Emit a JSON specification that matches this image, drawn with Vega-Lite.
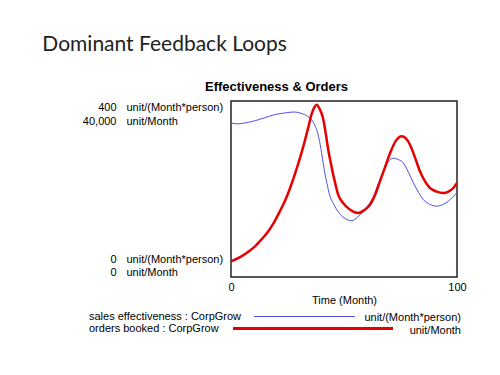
{
  "$schema": "https://vega.github.io/schema/vega-lite/v6.json",
  "width": 226,
  "height": 176,
  "autosize": {"type": "none"},
  "padding": {"left": 231, "top": 101, "right": 43, "bottom": 98},
  "background": "white",
  "config": {
    "view": {"stroke": "#222", "strokeWidth": 1.5},
    "font": "Liberation Sans",
    "axis": {"labelFont": "Liberation Sans", "labelFontSize": 11, "labelColor": "#000", "titleFont": "Liberation Sans", "titleColor": "#000", "grid": false, "domain": false, "ticks": false, "tickSize": 0},
    "legend": {"labelFont": "Liberation Sans", "labelFontSize": 11, "labelColor": "#000"}
  },
  "title": {
    "text": "Dominant Feedback Loops",
    "anchor": "start",
    "frame": "bounds",
    "font": "Lato",
    "fontSize": 21,
    "fontWeight": "normal",
    "color": "#222",
    "dx": -40,
    "offset": 25
  },
  "datasets": {
    "runs": [
      {"t": 0, "value": 350, "series": "sales effectiveness : CorpGrow", "unit": "unit/(Month*person)"},
      {"t": 3, "value": 348, "series": "sales effectiveness : CorpGrow", "unit": "unit/(Month*person)"},
      {"t": 6, "value": 350, "series": "sales effectiveness : CorpGrow", "unit": "unit/(Month*person)"},
      {"t": 10.5, "value": 355, "series": "sales effectiveness : CorpGrow", "unit": "unit/(Month*person)"},
      {"t": 15, "value": 362, "series": "sales effectiveness : CorpGrow", "unit": "unit/(Month*person)"},
      {"t": 19.3, "value": 369, "series": "sales effectiveness : CorpGrow", "unit": "unit/(Month*person)"},
      {"t": 24, "value": 373, "series": "sales effectiveness : CorpGrow", "unit": "unit/(Month*person)"},
      {"t": 28, "value": 375, "series": "sales effectiveness : CorpGrow", "unit": "unit/(Month*person)"},
      {"t": 31, "value": 372, "series": "sales effectiveness : CorpGrow", "unit": "unit/(Month*person)"},
      {"t": 34, "value": 365, "series": "sales effectiveness : CorpGrow", "unit": "unit/(Month*person)"},
      {"t": 36, "value": 355, "series": "sales effectiveness : CorpGrow", "unit": "unit/(Month*person)"},
      {"t": 37, "value": 346, "series": "sales effectiveness : CorpGrow", "unit": "unit/(Month*person)"},
      {"t": 38.2, "value": 330, "series": "sales effectiveness : CorpGrow", "unit": "unit/(Month*person)"},
      {"t": 39.2, "value": 308, "series": "sales effectiveness : CorpGrow", "unit": "unit/(Month*person)"},
      {"t": 40.3, "value": 275, "series": "sales effectiveness : CorpGrow", "unit": "unit/(Month*person)"},
      {"t": 41.4, "value": 240, "series": "sales effectiveness : CorpGrow", "unit": "unit/(Month*person)"},
      {"t": 42.5, "value": 212, "series": "sales effectiveness : CorpGrow", "unit": "unit/(Month*person)"},
      {"t": 43.6, "value": 187, "series": "sales effectiveness : CorpGrow", "unit": "unit/(Month*person)"},
      {"t": 45.5, "value": 165, "series": "sales effectiveness : CorpGrow", "unit": "unit/(Month*person)"},
      {"t": 47.3, "value": 149, "series": "sales effectiveness : CorpGrow", "unit": "unit/(Month*person)"},
      {"t": 49.5, "value": 137, "series": "sales effectiveness : CorpGrow", "unit": "unit/(Month*person)"},
      {"t": 51.5, "value": 130, "series": "sales effectiveness : CorpGrow", "unit": "unit/(Month*person)"},
      {"t": 53.4, "value": 128, "series": "sales effectiveness : CorpGrow", "unit": "unit/(Month*person)"},
      {"t": 56, "value": 136, "series": "sales effectiveness : CorpGrow", "unit": "unit/(Month*person)"},
      {"t": 58.6, "value": 149, "series": "sales effectiveness : CorpGrow", "unit": "unit/(Month*person)"},
      {"t": 61, "value": 165, "series": "sales effectiveness : CorpGrow", "unit": "unit/(Month*person)"},
      {"t": 63, "value": 183, "series": "sales effectiveness : CorpGrow", "unit": "unit/(Month*person)"},
      {"t": 65.2, "value": 212, "series": "sales effectiveness : CorpGrow", "unit": "unit/(Month*person)"},
      {"t": 67.4, "value": 240, "series": "sales effectiveness : CorpGrow", "unit": "unit/(Month*person)"},
      {"t": 69.6, "value": 262, "series": "sales effectiveness : CorpGrow", "unit": "unit/(Month*person)"},
      {"t": 71.8, "value": 270, "series": "sales effectiveness : CorpGrow", "unit": "unit/(Month*person)"},
      {"t": 74, "value": 267, "series": "sales effectiveness : CorpGrow", "unit": "unit/(Month*person)"},
      {"t": 76.3, "value": 259, "series": "sales effectiveness : CorpGrow", "unit": "unit/(Month*person)"},
      {"t": 78.5, "value": 238, "series": "sales effectiveness : CorpGrow", "unit": "unit/(Month*person)"},
      {"t": 80.7, "value": 214, "series": "sales effectiveness : CorpGrow", "unit": "unit/(Month*person)"},
      {"t": 83, "value": 192, "series": "sales effectiveness : CorpGrow", "unit": "unit/(Month*person)"},
      {"t": 85.1, "value": 176, "series": "sales effectiveness : CorpGrow", "unit": "unit/(Month*person)"},
      {"t": 88, "value": 165, "series": "sales effectiveness : CorpGrow", "unit": "unit/(Month*person)"},
      {"t": 91, "value": 161, "series": "sales effectiveness : CorpGrow", "unit": "unit/(Month*person)"},
      {"t": 93.5, "value": 164, "series": "sales effectiveness : CorpGrow", "unit": "unit/(Month*person)"},
      {"t": 96.1, "value": 172, "series": "sales effectiveness : CorpGrow", "unit": "unit/(Month*person)"},
      {"t": 98, "value": 181, "series": "sales effectiveness : CorpGrow", "unit": "unit/(Month*person)"},
      {"t": 100, "value": 192, "series": "sales effectiveness : CorpGrow", "unit": "unit/(Month*person)"},
      {"t": 0, "value": 3570, "series": "orders booked : CorpGrow", "unit": "unit/Month"},
      {"t": 4, "value": 4500, "series": "orders booked : CorpGrow", "unit": "unit/Month"},
      {"t": 7.5, "value": 5680, "series": "orders booked : CorpGrow", "unit": "unit/Month"},
      {"t": 10.5, "value": 6900, "series": "orders booked : CorpGrow", "unit": "unit/Month"},
      {"t": 13.4, "value": 8480, "series": "orders booked : CorpGrow", "unit": "unit/Month"},
      {"t": 16.5, "value": 10400, "series": "orders booked : CorpGrow", "unit": "unit/Month"},
      {"t": 19.3, "value": 12660, "series": "orders booked : CorpGrow", "unit": "unit/Month"},
      {"t": 21.5, "value": 14800, "series": "orders booked : CorpGrow", "unit": "unit/Month"},
      {"t": 23.8, "value": 17200, "series": "orders booked : CorpGrow", "unit": "unit/Month"},
      {"t": 26, "value": 20000, "series": "orders booked : CorpGrow", "unit": "unit/Month"},
      {"t": 28.2, "value": 23250, "series": "orders booked : CorpGrow", "unit": "unit/Month"},
      {"t": 30.5, "value": 27000, "series": "orders booked : CorpGrow", "unit": "unit/Month"},
      {"t": 32.6, "value": 30840, "series": "orders booked : CorpGrow", "unit": "unit/Month"},
      {"t": 34.2, "value": 34000, "series": "orders booked : CorpGrow", "unit": "unit/Month"},
      {"t": 35.6, "value": 36890, "series": "orders booked : CorpGrow", "unit": "unit/Month"},
      {"t": 36.8, "value": 38500, "series": "orders booked : CorpGrow", "unit": "unit/Month"},
      {"t": 37.9, "value": 39160, "series": "orders booked : CorpGrow", "unit": "unit/Month"},
      {"t": 39.2, "value": 38200, "series": "orders booked : CorpGrow", "unit": "unit/Month"},
      {"t": 40.7, "value": 36140, "series": "orders booked : CorpGrow", "unit": "unit/Month"},
      {"t": 41.8, "value": 33000, "series": "orders booked : CorpGrow", "unit": "unit/Month"},
      {"t": 42.9, "value": 29320, "series": "orders booked : CorpGrow", "unit": "unit/Month"},
      {"t": 44.4, "value": 25300, "series": "orders booked : CorpGrow", "unit": "unit/Month"},
      {"t": 45.9, "value": 21750, "series": "orders booked : CorpGrow", "unit": "unit/Month"},
      {"t": 47.5, "value": 18600, "series": "orders booked : CorpGrow", "unit": "unit/Month"},
      {"t": 49.6, "value": 16820, "series": "orders booked : CorpGrow", "unit": "unit/Month"},
      {"t": 52.7, "value": 15300, "series": "orders booked : CorpGrow", "unit": "unit/Month"},
      {"t": 56.3, "value": 14550, "series": "orders booked : CorpGrow", "unit": "unit/Month"},
      {"t": 59, "value": 15200, "series": "orders booked : CorpGrow", "unit": "unit/Month"},
      {"t": 61.5, "value": 16430, "series": "orders booked : CorpGrow", "unit": "unit/Month"},
      {"t": 63.8, "value": 18700, "series": "orders booked : CorpGrow", "unit": "unit/Month"},
      {"t": 65.9, "value": 21750, "series": "orders booked : CorpGrow", "unit": "unit/Month"},
      {"t": 68.2, "value": 25000, "series": "orders booked : CorpGrow", "unit": "unit/Month"},
      {"t": 70.4, "value": 28180, "series": "orders booked : CorpGrow", "unit": "unit/Month"},
      {"t": 73, "value": 31000, "series": "orders booked : CorpGrow", "unit": "unit/Month"},
      {"t": 75.5, "value": 31980, "series": "orders booked : CorpGrow", "unit": "unit/Month"},
      {"t": 77.4, "value": 31500, "series": "orders booked : CorpGrow", "unit": "unit/Month"},
      {"t": 79.2, "value": 30070, "series": "orders booked : CorpGrow", "unit": "unit/Month"},
      {"t": 81.4, "value": 27200, "series": "orders booked : CorpGrow", "unit": "unit/Month"},
      {"t": 83.6, "value": 24020, "series": "orders booked : CorpGrow", "unit": "unit/Month"},
      {"t": 85.8, "value": 21800, "series": "orders booked : CorpGrow", "unit": "unit/Month"},
      {"t": 88, "value": 20230, "series": "orders booked : CorpGrow", "unit": "unit/Month"},
      {"t": 91, "value": 19400, "series": "orders booked : CorpGrow", "unit": "unit/Month"},
      {"t": 93.9, "value": 19090, "series": "orders booked : CorpGrow", "unit": "unit/Month"},
      {"t": 96.2, "value": 19400, "series": "orders booked : CorpGrow", "unit": "unit/Month"},
      {"t": 98.4, "value": 20230, "series": "orders booked : CorpGrow", "unit": "unit/Month"},
      {"t": 100, "value": 21360, "series": "orders booked : CorpGrow", "unit": "unit/Month"}
    ]
  },
  "data": {"name": "runs"},
  "layer": [
    {
      "transform": [{"filter": "datum.series === 'sales effectiveness : CorpGrow'"}],
      "mark": {"type": "line", "interpolate": "monotone", "clip": true},
      "encoding": {
        "x": {
          "field": "t", "type": "quantitative",
          "scale": {"domain": [0, 100], "nice": false, "zero": false},
          "axis": {"orient": "bottom", "values": [0, 100], "labelFlush": false, "labelPadding": 4, "title": "Time (Month)", "titleFontSize": 11, "titleFontWeight": "normal", "titlePadding": 2}
        },
        "y": {
          "field": "value", "type": "quantitative",
          "scale": {"domain": [0, 400], "nice": false, "zero": true},
          "axis": {"orient": "left", "values": [0, 400], "title": null, "labelAlign": "right", "labelPadding": 115, "labelLineHeight": 13.5,
            "labelBaseline": {"condition": {"test": "datum.value > 0", "value": "top"}, "value": "bottom"},
            "labelOffset": {"condition": {"test": "datum.value > 0", "value": 0.5}, "value": -13},
            "labelExpr": "datum.value > 0 ? ['400', '40,000'] : ['0', '0']"}
        },
        "color": {
          "field": "series", "type": "nominal",
          "scale": {"domain": ["sales effectiveness : CorpGrow", "orders booked : CorpGrow"], "range": ["#5050e6", "#e80000"]},
          "legend": {
            "orient": "none", "legendX": 80.5, "legendY": 210, "direction": "vertical", "title": null,
            "symbolType": "M-16.8,0H15.2", "symbolSize": 100, "rowPadding": 0,
            "labelAlign": "left", "labelOffset": -233.5, "labelLimit": 300,
            "encode": {"symbols": {"update": {
              "shape": {"signal": "datum.value === 'orders booked : CorpGrow' ? 'M-16.8,0H15.2' : 'M-12.6,0H7.6'"},
              "strokeWidth": {"signal": "datum.value === 'orders booked : CorpGrow' ? 3 : 1"}
            }}}
          }
        },
        "strokeWidth": {
          "field": "series", "type": "nominal", "legend": null,
          "scale": {"type": "ordinal", "domain": ["sales effectiveness : CorpGrow", "orders booked : CorpGrow"], "range": [1, 3]}
        },
        "opacity": {
          "field": "unit", "type": "nominal",
          "scale": {"domain": ["unit/(Month*person)", "unit/Month"], "range": [1, 1]},
          "legend": {
            "orient": "none", "legendX": 219, "legendY": 210, "direction": "vertical", "title": null,
            "symbolSize": 0, "clipHeight": 13, "rowPadding": 0,
            "labelAlign": "right", "labelOffset": 0, "labelLimit": 300
          }
        }
      }
    },
    {
      "transform": [{"filter": "datum.series === 'orders booked : CorpGrow'"}],
      "mark": {"type": "line", "interpolate": "monotone", "clip": true},
      "encoding": {
        "x": {
          "field": "t", "type": "quantitative",
          "axis": {"orient": "top", "labels": false, "title": "Effectiveness & Orders", "titleFontSize": 13, "titleFontWeight": "bold", "titlePadding": 8, "titleX": 45, "titleAlign": "center"}
        },
        "y": {
          "field": "value", "type": "quantitative",
          "scale": {"domain": [0, 40000], "nice": false, "zero": true},
          "axis": {"orient": "left", "values": [0, 40000], "title": null, "labelAlign": "left", "labelPadding": 105, "labelLineHeight": 13.5,
            "labelBaseline": {"condition": {"test": "datum.value > 0", "value": "top"}, "value": "bottom"},
            "labelOffset": {"condition": {"test": "datum.value > 0", "value": 0.5}, "value": -13},
            "labelExpr": "['unit/(Month*person)', 'unit/Month']"}
        },
        "color": {"field": "series", "type": "nominal"},
        "strokeWidth": {"field": "series", "type": "nominal", "legend": null},
        "opacity": {"field": "unit", "type": "nominal"}
      }
    }
  ],
  "resolve": {"scale": {"y": "independent"}, "axis": {"x": "independent", "y": "independent"}}
}
